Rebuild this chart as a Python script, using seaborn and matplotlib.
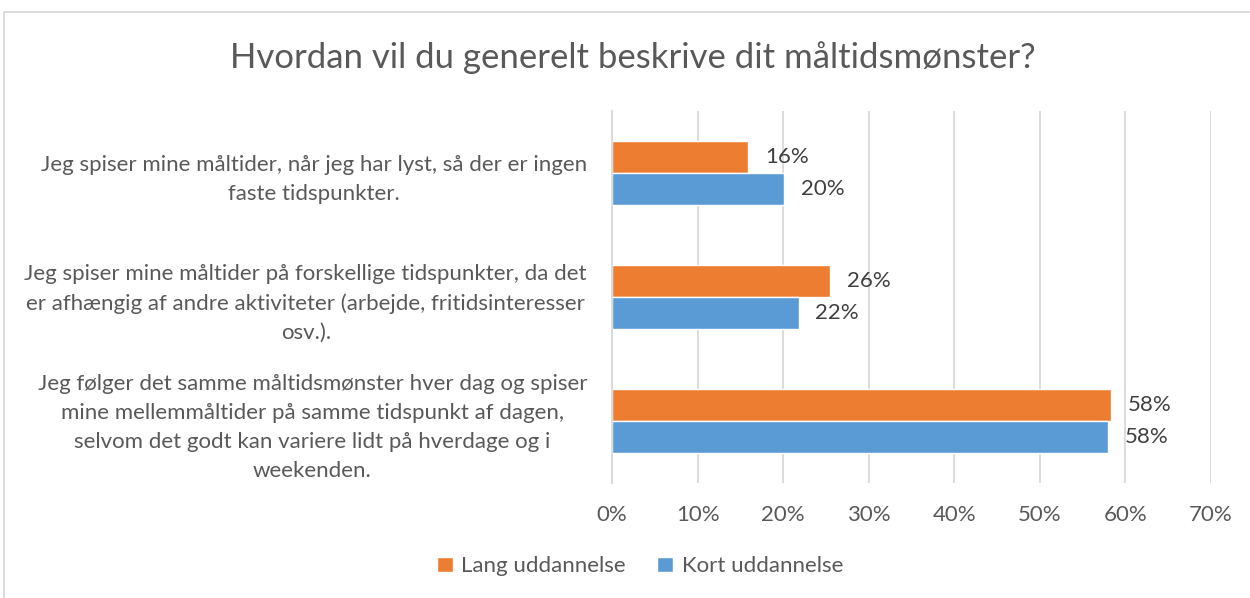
import pandas as pd
import seaborn as sns
import matplotlib.pyplot as plt
from matplotlib.patches import Rectangle

categories = [
    'Jeg spiser mine måltider, når jeg har lyst, så der er ingen\nfaste tidspunkter.',
    'Jeg spiser mine måltider på forskellige tidspunkter, da det\ner afhængig af andre aktiviteter (arbejde, fritidsinteresser\nosv.).',
    'Jeg følger det samme måltidsmønster hver dag og spiser\nmine mellemmåltider på samme tidspunkt af dagen,\nselvom det godt kan variere lidt på hverdage og i\nweekenden.',
]
groups = ['Lang uddannelse', 'Kort uddannelse']
lang = [15.9, 25.5, 58.3]
kort = [20.1, 21.8, 58.0]
xticks = [0, 10, 20, 30, 40, 50, 60, 70]

df = pd.DataFrame({
    'svar': categories * 2,
    'gruppe': [groups[0]] * 3 + [groups[1]] * 3,
    'pct': lang + kort,
})

sns.set_theme(style='white')
plt.rcParams['font.family'] = ['Lato', 'DejaVu Sans']
text_col = '#595959'

fig = plt.figure(figsize=(12.5, 5.98), dpi=100)
ax = fig.add_axes([0.4896, 0.192, 0.4792, 0.622])

sns.barplot(data=df, y='svar', x='pct', hue='gruppe', order=categories,
            hue_order=groups, palette=['#ED7D31', '#5B9BD5'], orient='h',
            width=0.52, gap=0, saturation=1, ax=ax, legend=True)

for cont in ax.containers:
    ax.bar_label(cont, labels=[f'{v:.0f}%' for v in cont.datavalues],
                 padding=12, fontsize=16, color='#404040')

ax.set_xlim(0, 70)
ax.set_xticks(xticks)
ax.set_xticklabels([f'{t}%' for t in xticks], fontsize=16, color=text_col)
ax.tick_params(axis='x', length=0, pad=16)
ax.tick_params(axis='y', length=0, pad=18)
for lab in ax.get_yticklabels():
    lab.set_fontsize(16)
    lab.set_color(text_col)
    lab.set_multialignment('center')
    lab.set_linespacing(1.55)
ax.grid(axis='x', color='#D9D9D9', linewidth=1.3)
ax.set_axisbelow(True)
for s in ['top', 'right', 'bottom']:
    ax.spines[s].set_visible(False)
ax.spines['left'].set_color('#D9D9D9')
ax.spines['left'].set_linewidth(1.3)
ax.set_xlabel('')
ax.set_ylabel('')

handles, labels = ax.get_legend_handles_labels()
ax.legend_.remove()
fig.legend(handles, labels, loc='center', bbox_to_anchor=(0.512, 0.053), ncol=2,
           frameon=False, fontsize=16, labelcolor=text_col, handlelength=0.7,
           handleheight=0.7, handletextpad=0.4, columnspacing=1.4)

fig.text(0.506, 0.903, 'Hvordan vil du generelt beskrive dit måltidsmønster?',
         ha='center', va='center', fontsize=25, color=text_col)

fig.patches.append(Rectangle((4 / 1250, -0.1), 1.1, 1 - 12 / 598 + 0.1,
                             transform=fig.transFigure, fill=False,
                             edgecolor='#D9D9D9', linewidth=1.3))

fig.savefig('out.png', dpi=100, facecolor='white')
